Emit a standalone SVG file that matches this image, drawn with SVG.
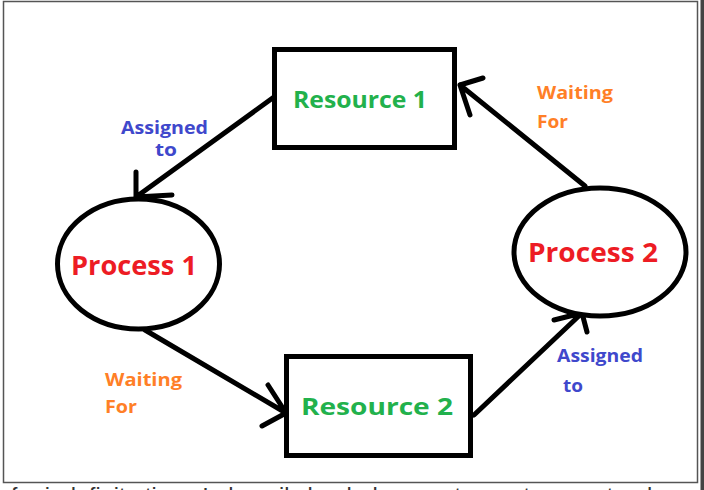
<svg xmlns="http://www.w3.org/2000/svg" width="704" height="490" viewBox="0 0 704 490">
<style>
.frame{fill:#fff;stroke:#555;stroke-width:1.5}
.box{fill:#fff;stroke:#000;stroke-width:5}
.proc{fill:#fff;stroke:#000;stroke-width:5}
.edge{fill:none;stroke:#000;stroke-width:5;stroke-linecap:round;stroke-linejoin:round}
.t{font-family:"Open Sans","Liberation Sans",sans-serif;font-weight:bold}
.res{fill:#22b14c;font-size:24px}
.prc{fill:#ed1c24;font-size:27px}
.asg{fill:#3f48cc;font-size:18px}
.wf{fill:#ff7f27;font-size:18px}
</style>
<rect width="704" height="490" fill="#fff"/>
<rect class="frame" x="3.5" y="1.5" width="694" height="481"/>
<rect x="700.5" y="0" width="3.5" height="490" fill="#444"/>
<text x="11" y="503" font-family="'Liberation Sans',sans-serif" font-size="22" fill="#333" textLength="653" lengthAdjust="spacingAndGlyphs">for indefinite time. In heavily loaded computer system, a steady</text>
<g id="connectors">
<path class="edge" d="M274,97 L136,197 M136,172 L136,197 L172,195"/>
<path class="edge" d="M585,186 L460,85 M483,78 L460,85 L470,115"/>
<path class="edge" d="M145,330 L286,413 M268,385 L286,413 L262,426"/>
<path class="edge" d="M474,415 L582,313 M554,320 L582,313 L587,332"/>
</g>
<g id="resource1">
<rect class="box" x="274.5" y="49.5" width="180" height="98"/>
<text class="t res" x="360" y="108" text-anchor="middle" textLength="134" lengthAdjust="spacingAndGlyphs">Resource 1</text>
</g>
<g id="resource2">
<rect class="box" x="286.5" y="356.5" width="184" height="99"/>
<text class="t res" x="377" y="415" text-anchor="middle" textLength="152" lengthAdjust="spacingAndGlyphs">Resource 2</text>
</g>
<g id="process1">
<ellipse class="proc" cx="138.5" cy="264" rx="81" ry="65"/>
<text class="t prc" x="134" y="275" text-anchor="middle" textLength="126" lengthAdjust="spacingAndGlyphs">Process 1</text>
</g>
<g id="process2">
<ellipse class="proc" cx="600" cy="252" rx="86" ry="64"/>
<text class="t prc" x="593" y="262" text-anchor="middle" textLength="130" lengthAdjust="spacingAndGlyphs">Process 2</text>
</g>
<g id="labels">
<text class="t asg" x="121" y="134" textLength="87" lengthAdjust="spacingAndGlyphs">Assigned</text>
<text class="t asg" x="155" y="156" textLength="22" lengthAdjust="spacingAndGlyphs">to</text>
<text class="t wf" x="537" y="99" textLength="76" lengthAdjust="spacingAndGlyphs">Waiting</text>
<text class="t wf" x="537" y="128" textLength="31" lengthAdjust="spacingAndGlyphs">For</text>
<text class="t wf" x="105" y="386" textLength="77" lengthAdjust="spacingAndGlyphs">Waiting</text>
<text class="t wf" x="105" y="413" textLength="32" lengthAdjust="spacingAndGlyphs">For</text>
<text class="t asg" x="557" y="362" textLength="86" lengthAdjust="spacingAndGlyphs">Assigned</text>
<text class="t asg" x="563" y="392" textLength="20" lengthAdjust="spacingAndGlyphs">to</text>
</g>
</svg>
